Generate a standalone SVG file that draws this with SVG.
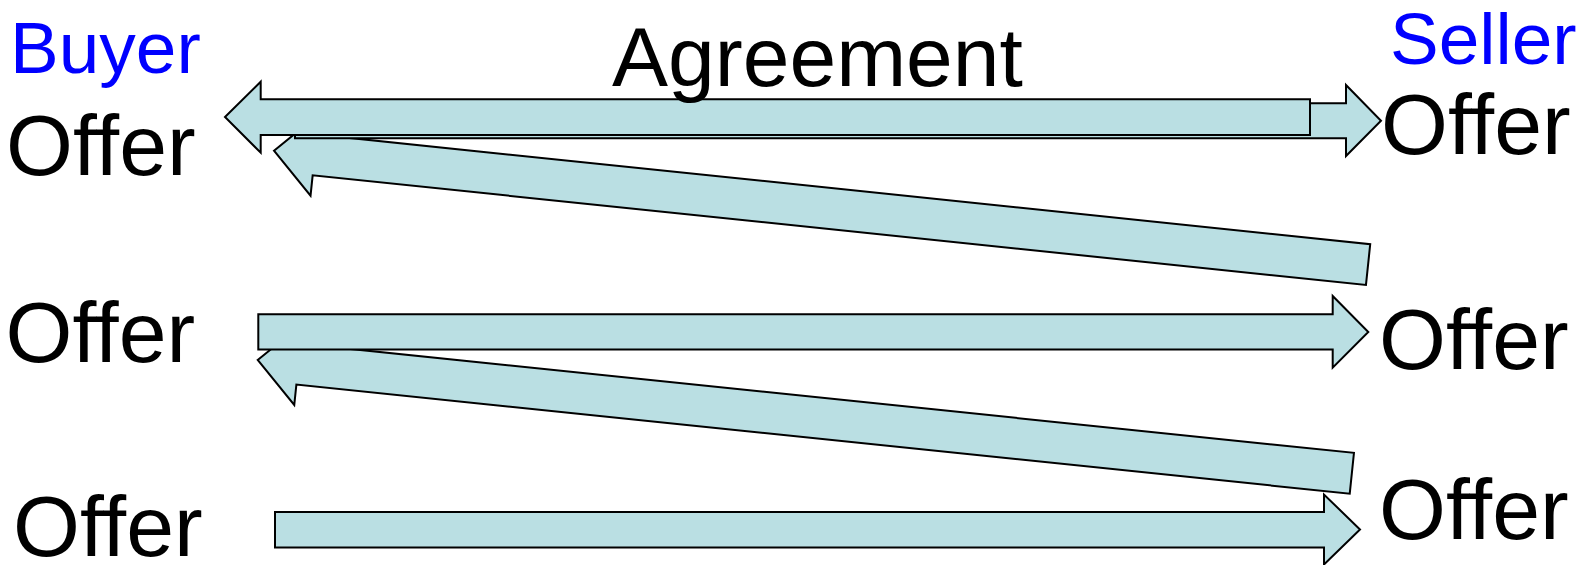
<svg xmlns="http://www.w3.org/2000/svg" width="1587" height="565" viewBox="0 0 1587 565">
  <style>
    .arrow { fill: #BADFE3; stroke: #000; stroke-width: 2; stroke-linejoin: miter; }
    .lbl { font-family: "Liberation Sans", Arial, sans-serif; fill: #000; }
    .offer { font-size: 86px; }
    .role { font-size: 73px; fill: #0000FF; }
    .agree { font-size: 84px; }
  </style>
  <defs>
    <polygon id="diag" points="0,0 41,-41 41,-20.5 1100,-20.5 1100,20.5 41,20.5 41,41"/>
  </defs>
  <rect width="1587" height="565" fill="#FFFFFF"/>
  <g id="connectors">
    <use href="#diag" class="arrow" transform="translate(274,150.7) rotate(5.94)"/>
    <polygon id="agree-right" class="arrow" points="295,103.3 1346,103.3 1346,85 1381,120.8 1346,156 1346,138.3 295,138.3"/>
    <polygon id="agree-left" class="arrow" points="225,117 260.7,81.7 260.7,99.3 1310,99.3 1310,135 260.7,135 260.7,152.7"/>
    <use href="#diag" class="arrow" transform="translate(257.7,360) rotate(5.91)"/>
    <polygon id="offer2-right" class="arrow" points="258.3,314.3 1332.7,314.3 1332.7,296 1368.3,332 1332.7,367.7 1332.7,349.5 258.3,349.5"/>
    <polygon id="offer3-right" class="arrow" points="275,512 1324,512 1324,494.5 1360,529.5 1324,564.5 1324,547.5 275,547.5"/>
  </g>
  <g id="buyer-label"><text class="lbl role" x="10" y="73">Buyer</text></g>
  <g id="seller-label"><text class="lbl role" x="1390" y="64">Seller</text></g>
  <g id="agreement-label"><text class="lbl agree" x="612" y="86">Agreement</text></g>
  <g id="buyer-offer-1"><text class="lbl offer" x="6" y="175">Offer</text></g>
  <g id="seller-offer-1"><text class="lbl offer" x="1381" y="154">Offer</text></g>
  <g id="buyer-offer-2"><text class="lbl offer" x="5.5" y="362">Offer</text></g>
  <g id="seller-offer-2"><text class="lbl offer" x="1379" y="369">Offer</text></g>
  <g id="buyer-offer-3"><text class="lbl offer" x="13" y="556">Offer</text></g>
  <g id="seller-offer-3"><text class="lbl offer" x="1379" y="539">Offer</text></g>
</svg>
